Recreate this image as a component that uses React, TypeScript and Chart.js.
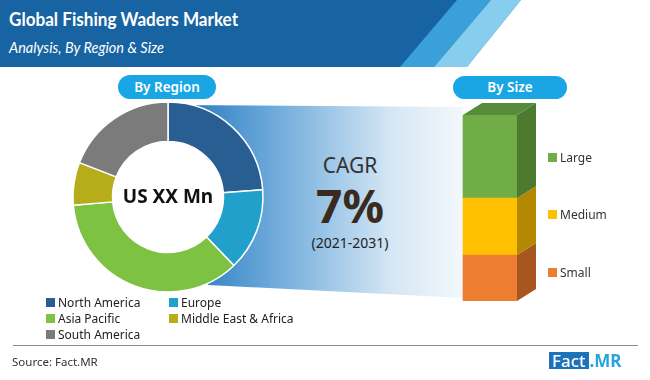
import React, { useEffect, useRef } from "react";
import { Chart, registerables } from "chart.js";

Chart.register(...registerables);

const regionLabels = ["North America", "Europe", "Asia Pacific", "Middle East & Africa", "South America"];
const regionShares = [23.8, 14.0, 35.8, 7.3, 19.1];
const regionColors = ["#285e91", "#20a0cb", "#7dc242", "#b7ad1a", "#7b7b7b"];

const sizeLabels = ["Small", "Medium", "Large"];
const sizeShares = [24.7, 30.6, 44.7];
const sizeColors = ["#ed7d31", "#ffc000", "#70ad47"];
const sizeSideColors = ["#a8561f", "#b48800", "#4c7a2e"];
const sizeTopColor = "#578a3a";

const FONT = "'Noto Sans', 'Open Sans', sans-serif";

const holeFill = {
  id: "holeFill",
  beforeDatasetsDraw(chart: any) {
    const meta = chart.getDatasetMeta(0);
    const el: any = meta.data[0];
    if (!el) return;
    const p = el.getProps(["x", "y", "innerRadius"], true);
    const ctx = chart.ctx;
    ctx.save();
    ctx.fillStyle = "#ffffff";
    ctx.beginPath();
    ctx.arc(p.x, p.y, p.innerRadius + 1, 0, Math.PI * 2);
    ctx.fill();
    ctx.restore();
  },
};

const bar3d = {
  id: "bar3d",
  afterDatasetsDraw(chart: any) {
    const ctx = chart.ctx;
    const dx = 19;
    const dy = -12;
    let topEl: any = null;
    chart.data.datasets.forEach((ds: any, i: number) => {
      const meta = chart.getDatasetMeta(i);
      meta.data.forEach((el: any) => {
        const p = el.getProps(["x", "y", "base", "width"], true);
        const xr = p.x + p.width / 2;
        ctx.save();
        ctx.fillStyle = sizeSideColors[i];
        ctx.beginPath();
        ctx.moveTo(xr, p.y);
        ctx.lineTo(xr + dx, p.y + dy);
        ctx.lineTo(xr + dx, p.base + dy);
        ctx.lineTo(xr, p.base);
        ctx.closePath();
        ctx.fill();
        ctx.restore();
        if (!topEl || p.y < topEl.y) topEl = p;
      });
    });
    if (topEl) {
      const xl = topEl.x - topEl.width / 2;
      const xr = topEl.x + topEl.width / 2;
      ctx.save();
      ctx.fillStyle = sizeTopColor;
      ctx.beginPath();
      ctx.moveTo(xl, topEl.y);
      ctx.lineTo(xl + dx, topEl.y + dy);
      ctx.lineTo(xr + dx, topEl.y + dy);
      ctx.lineTo(xr, topEl.y);
      ctx.closePath();
      ctx.fill();
      ctx.restore();
    }
  },
};

function Donut() {
  const ref = useRef<HTMLCanvasElement>(null);
  useEffect(() => {
    const chart = new Chart(ref.current!, {
      type: "doughnut",
      data: {
        labels: regionLabels,
        datasets: [
          {
            data: regionShares,
            backgroundColor: regionColors,
            borderColor: "#ffffff",
            borderWidth: 1.5,
            radius: 95,
          } as any,
        ],
      },
      options: {
        responsive: false,
        animation: false,
        cutout: 58,
        plugins: { legend: { display: false }, tooltip: { enabled: false } },
        layout: { padding: 0 },
      } as any,
      plugins: [holeFill],
    });
    return () => chart.destroy();
  }, []);
  return (
    <canvas
      ref={ref}
      width={200}
      height={200}
      style={{ position: "absolute", left: 68, top: 97, width: 200, height: 200 }}
    />
  );
}

function SizeBar() {
  const ref = useRef<HTMLCanvasElement>(null);
  useEffect(() => {
    const chart = new Chart(ref.current!, {
      type: "bar",
      data: {
        labels: ["Size"],
        datasets: sizeLabels.map((l, i) => ({
          label: l,
          data: [sizeShares[i]],
          backgroundColor: sizeColors[i],
          borderWidth: 0,
          barThickness: 54,
        })),
      },
      options: {
        responsive: false,
        animation: false,
        layout: { padding: { top: 20, bottom: 4, left: 0, right: 10 } },
        scales: {
          x: { stacked: true, display: false },
          y: { stacked: true, display: false, min: 0, max: 100 },
        },
        plugins: { legend: { display: false }, tooltip: { enabled: false } },
      },
      plugins: [bar3d],
    });
    return () => chart.destroy();
  }, []);
  return (
    <canvas
      ref={ref}
      width={110}
      height={210}
      style={{ position: "absolute", left: 440, top: 95, width: 110, height: 210 }}
    />
  );
}

const abs = (s: React.CSSProperties): React.CSSProperties => ({ position: "absolute", ...s });

export default function App() {
  const sizeLegendY = [272, 214, 157];
  return (
    <div
      style={{
        position: "fixed",
        left: 0,
        top: 0,
        width: 650,
        height: 380,
        background: "#ffffff",
        overflow: "hidden",
        fontFamily: FONT,
      }}
    >
      {/* header */}
      <div style={abs({ left: 0, top: 0, width: 650, height: 67, background: "#1864a2" })} />
      <div
        style={abs({
          left: 0,
          top: 0,
          width: 650,
          height: 67,
          background: "#3aa0da",
          clipPath: "polygon(457px 0, 491px 0, 434px 67px, 400px 67px)",
        })}
      />
      <div
        style={abs({
          left: 0,
          top: 0,
          width: 650,
          height: 67,
          background: "#86cdee",
          clipPath: "polygon(491px 0, 521px 0, 467px 67px, 434px 67px)",
        })}
      />
      <div
        style={abs({
          left: 0,
          top: 0,
          width: 650,
          height: 67,
          background: "#ffffff",
          clipPath: "polygon(521px 0, 650px 0, 650px 67px, 467px 67px)",
        })}
      />
      <div
        style={abs({
          left: 9,
          top: 8,
          color: "#fff",
          fontFamily: "Lato, 'Noto Sans', sans-serif",
          fontWeight: 700,
          fontSize: 18,
          whiteSpace: "nowrap",
          transform: "scaleX(0.95)",
          transformOrigin: "left center",
        })}
      >
        Global Fishing Waders Market
      </div>
      <div
        style={abs({
          left: 9,
          top: 39,
          color: "#fff",
          fontFamily: "Lato, 'Noto Sans', sans-serif",
          fontStyle: "italic",
          fontSize: 14.5,
          whiteSpace: "nowrap",
        })}
      >
        Analysis, By Region &amp; Size
      </div>

      {/* pills */}
      <div
        style={abs({
          left: 118,
          top: 75,
          width: 98,
          height: 24,
          borderRadius: 12,
          background: "#1aa6e4",
          color: "#fff",
          fontSize: 13.5,
          fontWeight: 600,
          lineHeight: "24px",
          textAlign: "center",
        })}
      >
        By Region
      </div>
      <div
        style={abs({
          left: 453,
          top: 76,
          width: 114,
          height: 23,
          borderRadius: 12,
          background: "#1aa6e4",
          color: "#fff",
          fontSize: 13.5,
          fontWeight: 600,
          lineHeight: "23px",
          textAlign: "center",
        })}
      >
        By Size
      </div>

      {/* gradient funnel */}
      <div
        style={abs({
          left: 0,
          top: 0,
          width: 650,
          height: 380,
          background: "linear-gradient(90deg, #1e6cb4 168px, #4a93cf 230px, #8dbde3 310px, #d4e6f4 390px, #f3f8fc 462px)",
          clipPath: "polygon(168px 105px, 463px 107px, 463px 298px, 208px 285px)",
        })}
      />

      <Donut />
      <div
        style={abs({
          left: 168 - 60,
          top: 183,
          width: 120,
          textAlign: "center",
          fontWeight: 700,
          fontSize: 19,
          color: "#111",
          whiteSpace: "nowrap",
        })}
      >
        US XX Mn
      </div>

      {/* CAGR */}
      <div style={abs({ left: 290, top: 151, width: 120, textAlign: "center", fontSize: 21, color: "#333" })}>
        CAGR
      </div>
      <div
        style={abs({
          left: 290,
          top: 177,
          width: 120,
          textAlign: "center",
          fontSize: 46,
          fontWeight: 700,
          color: "#3a2a20",
          lineHeight: "56px",
        })}
      >
        7%
      </div>
      <div style={abs({ left: 290, top: 233, width: 120, textAlign: "center", fontSize: 14, color: "#222" })}>
        (2021-2031)
      </div>

      <SizeBar />
      {sizeLabels.map((l, i) => (
        <div key={l} style={abs({ left: 548, top: sizeLegendY[i] - 9, height: 18, display: "flex", alignItems: "center" })}>
          <span style={{ width: 9, height: 9, background: sizeColors[i], display: "inline-block", marginRight: 3 }} />
          <span style={{ fontSize: 12, color: "#333" }}>{l}</span>
        </div>
      ))}

      {/* region legend */}
      {regionLabels.map((l, i) => {
        const col = i % 2;
        const row = Math.floor(i / 2);
        return (
          <div
            key={l}
            style={abs({
              left: col === 0 ? 46 : 169,
              top: 294 + row * 16,
              height: 16,
              display: "flex",
              alignItems: "center",
              whiteSpace: "nowrap",
            })}
          >
            <span style={{ width: 9, height: 9, background: regionColors[i], display: "inline-block", marginRight: 3 }} />
            <span style={{ fontSize: 12, color: "#222" }}>{l}</span>
          </div>
        );
      })}

      {/* footer */}
      <div style={abs({ left: 13, top: 345, width: 625, height: 1, background: "#8a8a8a" })} />
      <div style={abs({ left: 12, top: 354, fontSize: 11.5, color: "#333", whiteSpace: "nowrap" })}>Source: Fact.MR</div>
      <div style={abs({ left: 549, top: 352, height: 17, display: "flex", alignItems: "stretch" })}>
        <span
          style={{
            background: "#1d73b9",
            color: "#fff",
            fontSize: 17,
            lineHeight: "17px",
            padding: "0 3px",
            fontWeight: 500,
          }}
        >
          Fact
        </span>
        <span style={{ color: "#27a4de", fontSize: 17, lineHeight: "17px", fontWeight: 700, marginLeft: 1 }}>.MR</span>
      </div>
    </div>
  );
}
